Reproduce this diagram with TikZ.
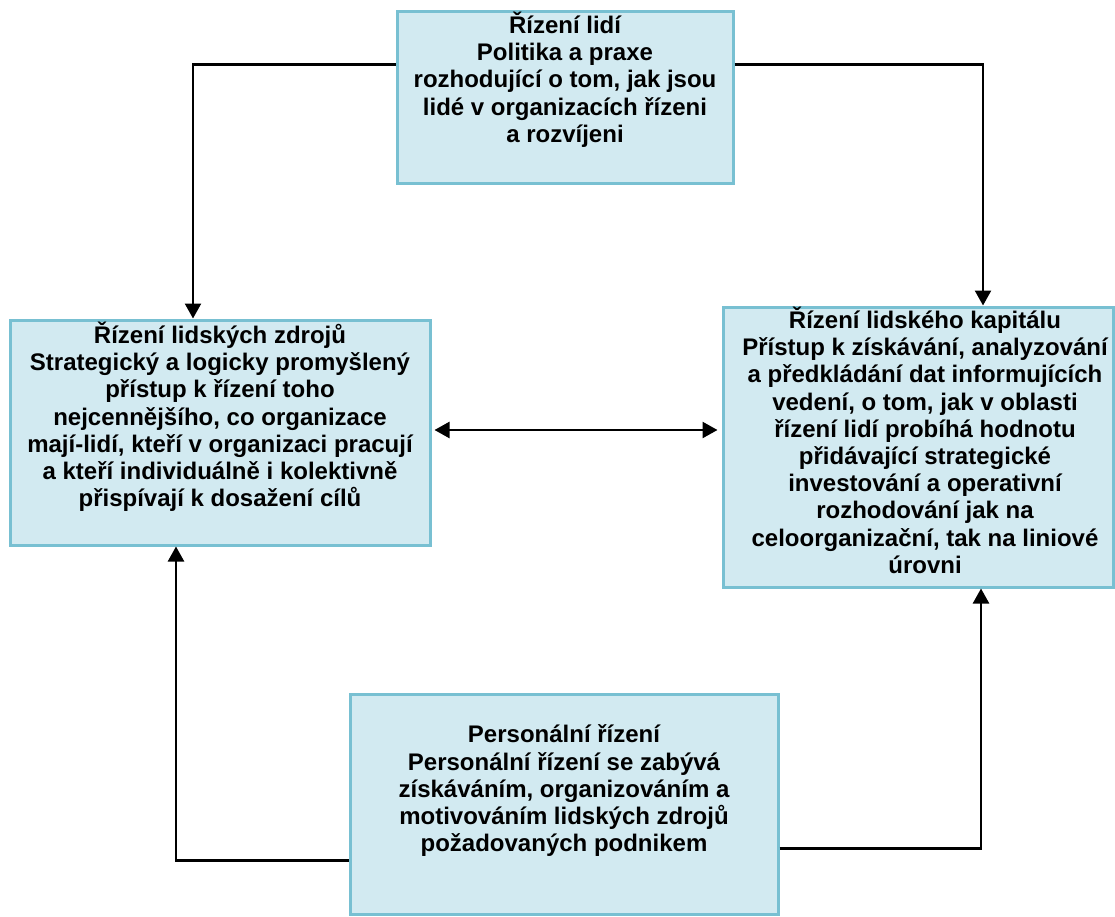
\documentclass[tikz,border=0pt]{standalone}
\usepackage{fontspec}
\setmainfont{Liberation Sans}
\usetikzlibrary{arrows.meta}
\definecolor{boxfill}{RGB}{210,234,241}
\definecolor{boxline}{RGB}{120,192,210}
\newcommand{\boxtext}[4]{\parbox[c][#2][t]{#1}{\centering\fontsize{24}{27.2}\selectfont\bfseries\vspace*{#3}#4\par}}
\begin{document}
\begin{tikzpicture}[x=1pt,y=-1pt,
  box/.style={rectangle, draw=boxline, fill=boxfill, line width=3pt, inner sep=0pt},
  conn/.style={line width=2.4pt, -{Triangle[length=15pt,width=16pt]}},
  dbl/.style={line width=2.4pt, {Triangle[length=15pt,width=16pt]}-{Triangle[length=15pt,width=16pt]}}]
\useasboundingbox (0,0) rectangle (1115,917);

\node[box, minimum width=336pt, minimum height=172pt] (top) at (565,98)
  {\boxtext{330pt}{172pt}{0pt}{Řízení lidí\\ Politika a praxe\\ rozhodující o tom, jak jsou\\ lidé v organizacích řízeni\\ a rozvíjeni}};

\node[box, minimum width=420pt, minimum height=225pt] (left) at (220,432.5)
  {\boxtext{414pt}{225pt}{2pt}{Řízení lidských zdrojů\\ Strategický a logicky promyšlený\\ přístup k řízení toho\\ nejcennějšího, co organizace\\ mají-lidí, kteří v organizaci pracují\\ a kteří individuálně i kolektivně\\ přispívají k dosažení cílů}};

\node[box, minimum width=390pt, minimum height=280pt] (right) at (918,447)
  {\hspace{14pt}\boxtext{376pt}{280pt}{0pt}{Řízení lidského kapitálu\\ Přístup k získávání, analyzování\\ a předkládání dat informujících\\ vedení, o tom, jak v oblasti\\ řízení lidí probíhá hodnotu\\ přidávající strategické\\ investování a operativní\\ rozhodování jak na\\ celoorganizační, tak na liniové\\ úrovni}};

\node[box, minimum width=428pt, minimum height=220pt] (bot) at (564,804)
  {\boxtext{422pt}{220pt}{31pt}{Personální řízení\\ Personální řízení se zabývá\\ získáváním, organizováním a\\ motivováním lidských zdrojů\\ požadovaných podnikem}};

\draw[conn] ([yshift=-54pt]top.north west) -| ([xshift=-27pt]left.north);
\draw[conn] ([yshift=-54pt]top.north east) -| ([xshift=65pt]right.north);
\draw[dbl, shorten <=3pt, shorten >=4pt] ([yshift=2.5pt]left.east) -- ([yshift=2.5pt]left.east -| right.west);
\draw[conn] ([yshift=-168pt]bot.north west) -| ([xshift=-44pt]left.south);
\draw[conn] ([yshift=-156pt]bot.north east) -| ([xshift=63pt]right.south);
\end{tikzpicture}
\end{document}
